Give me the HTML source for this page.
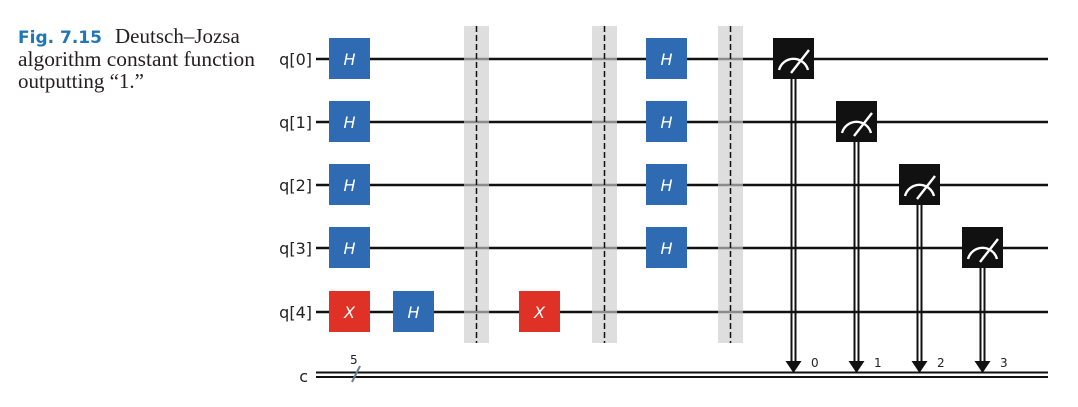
<!DOCTYPE html>
<html><head><meta charset="utf-8"><style>
html,body{margin:0;padding:0;background:#fff;width:1078px;height:407px;overflow:hidden}
</style></head><body>
<svg width="1078" height="407" viewBox="0 0 1078 407" xmlns="http://www.w3.org/2000/svg">
<g font-family="Liberation Serif, serif" font-size="21" fill="#231f20">
<text x="18" y="43"><tspan font-family="DejaVu Sans, sans-serif" font-weight="bold" font-size="17" fill="#1f77b8">Fig. 7.15</tspan><tspan x="115">Deutsch–Jozsa</tspan></text>
<text x="18" y="66" textLength="237" lengthAdjust="spacingAndGlyphs">algorithm constant function</text>
<text x="18" y="88">outputting “1.”</text>
</g>
<g font-family="DejaVu Sans, sans-serif" font-size="16" fill="#222" text-anchor="end">
<text x="312" y="65">q[0]</text>
<text x="312" y="128">q[1]</text>
<text x="312" y="191">q[2]</text>
<text x="312" y="254">q[3]</text>
<text x="312" y="318">q[4]</text>
<text x="308" y="382">c</text>
</g>
<g fill="#dedede">
<rect x="464" y="26" width="25" height="317"/>
<rect x="592" y="26" width="25" height="317"/>
<rect x="718" y="26" width="25" height="317"/>
</g>
<g stroke="#111" stroke-width="2.5">
<line x1="316" y1="59" x2="1048" y2="59"/>
<line x1="316" y1="122" x2="1048" y2="122"/>
<line x1="316" y1="185" x2="1048" y2="185"/>
<line x1="316" y1="248" x2="1048" y2="248"/>
<line x1="316" y1="312" x2="1048" y2="312"/>
<line x1="316" y1="372.5" x2="1048" y2="372.5" stroke-width="2"/>
<line x1="316" y1="377" x2="1048" y2="377" stroke-width="2"/>
</g>
<g fill="#dedede" opacity="0.6">
<rect x="464" y="26" width="25" height="317"/>
<rect x="592" y="26" width="25" height="317"/>
<rect x="718" y="26" width="25" height="317"/>
</g>
<g stroke="#111" stroke-width="1.5" stroke-dasharray="6,3">
<line x1="476.5" y1="26" x2="476.5" y2="343"/>
<line x1="604.5" y1="26" x2="604.5" y2="343"/>
<line x1="730.5" y1="26" x2="730.5" y2="343"/>
</g>
<line x1="352" y1="382" x2="360" y2="366" stroke="#6a7f93" stroke-width="2"/>
<text x="350" y="364" font-family="DejaVu Sans, sans-serif" font-size="12" fill="#222">5</text>
<g font-family="DejaVu Sans, sans-serif" font-style="italic" font-size="16" fill="#fff" text-anchor="middle">
<rect x="329" y="38" width="41" height="41" fill="#2e6bb3"/><text x="349.5" y="65">H</text>
<rect x="329" y="101" width="41" height="41" fill="#2e6bb3"/><text x="349.5" y="128">H</text>
<rect x="329" y="164" width="41" height="41" fill="#2e6bb3"/><text x="349.5" y="191">H</text>
<rect x="329" y="227" width="41" height="41" fill="#2e6bb3"/><text x="349.5" y="254">H</text>
<rect x="329" y="291" width="41" height="41" fill="#e03127"/><text x="349.5" y="318">X</text>
<rect x="393" y="291" width="41" height="41" fill="#2e6bb3"/><text x="413.5" y="318">H</text>
<rect x="519" y="291" width="41" height="41" fill="#e03127"/><text x="539.5" y="318">X</text>
<rect x="646" y="38" width="41" height="41" fill="#2e6bb3"/><text x="666.5" y="65">H</text>
<rect x="646" y="101" width="41" height="41" fill="#2e6bb3"/><text x="666.5" y="128">H</text>
<rect x="646" y="164" width="41" height="41" fill="#2e6bb3"/><text x="666.5" y="191">H</text>
<rect x="646" y="227" width="41" height="41" fill="#2e6bb3"/><text x="666.5" y="254">H</text>
</g>
<g font-family="DejaVu Sans, sans-serif" font-size="12" fill="#222">
<g transform="translate(773,38)">
<line x1="18.5" y1="41" x2="18.5" y2="325" stroke="#111" stroke-width="2"/>
<line x1="22.5" y1="41" x2="22.5" y2="325" stroke="#111" stroke-width="2"/>
<polygon points="12.5,323 28.5,323 20.5,335" fill="#111"/>
<rect width="41" height="41" fill="#111"/>
<path d="M6,32 A15,15 0 0 1 35,32" fill="none" stroke="#fff" stroke-width="2.4"/>
<line x1="18" y1="35" x2="36" y2="12" stroke="#fff" stroke-width="2.4"/>
<text x="38" y="329">0</text>
</g>
<g transform="translate(836,101)">
<line x1="18.5" y1="41" x2="18.5" y2="262" stroke="#111" stroke-width="2"/>
<line x1="22.5" y1="41" x2="22.5" y2="262" stroke="#111" stroke-width="2"/>
<polygon points="12.5,260 28.5,260 20.5,272" fill="#111"/>
<rect width="41" height="41" fill="#111"/>
<path d="M6,32 A15,15 0 0 1 35,32" fill="none" stroke="#fff" stroke-width="2.4"/>
<line x1="18" y1="35" x2="36" y2="12" stroke="#fff" stroke-width="2.4"/>
<text x="38" y="266">1</text>
</g>
<g transform="translate(899,164)">
<line x1="18.5" y1="41" x2="18.5" y2="199" stroke="#111" stroke-width="2"/>
<line x1="22.5" y1="41" x2="22.5" y2="199" stroke="#111" stroke-width="2"/>
<polygon points="12.5,197 28.5,197 20.5,209" fill="#111"/>
<rect width="41" height="41" fill="#111"/>
<path d="M6,32 A15,15 0 0 1 35,32" fill="none" stroke="#fff" stroke-width="2.4"/>
<line x1="18" y1="35" x2="36" y2="12" stroke="#fff" stroke-width="2.4"/>
<text x="38" y="203">2</text>
</g>
<g transform="translate(962,227)">
<line x1="18.5" y1="41" x2="18.5" y2="136" stroke="#111" stroke-width="2"/>
<line x1="22.5" y1="41" x2="22.5" y2="136" stroke="#111" stroke-width="2"/>
<polygon points="12.5,134 28.5,134 20.5,146" fill="#111"/>
<rect width="41" height="41" fill="#111"/>
<path d="M6,32 A15,15 0 0 1 35,32" fill="none" stroke="#fff" stroke-width="2.4"/>
<line x1="18" y1="35" x2="36" y2="12" stroke="#fff" stroke-width="2.4"/>
<text x="38" y="140">3</text>
</g>
</g>
</svg>
</body></html>
